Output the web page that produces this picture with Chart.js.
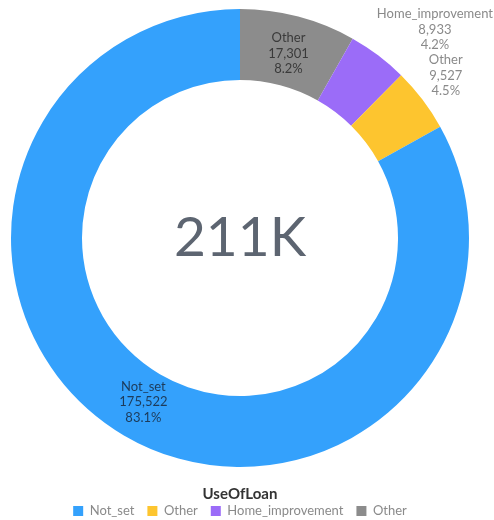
<!DOCTYPE html>
<html>

<head>
    <meta charset='utf-8'>
    <title>UseOfLoan</title>
    <script src="https://cdn.jsdelivr.net/npm/chart.js@4.4.1/dist/chart.umd.min.js"></script>
    <style>
        body { margin: 0; background: #fff; }
    </style>
</head>

<body>
    <canvas id="chart" width="494" height="520"></canvas>
    <script>
        // slices in drawing order (clockwise from 12 o'clock), legend shows them reversed
        var labels = ['Other', 'Home_improvement', 'Other', 'Not_set'];
        var values = [17301, 8933, 9527, 175522];
        var colors = ['#8c8c8c', '#9b6cf8', '#fdc52f', '#34a1fc'];
        var labelColors = ['#3a3a3a', '#8a8a8a', '#8a8a8a', '#1d3b5a'];

        var total = values.reduce((sum, v) => sum + v, 0);
        var FONT = 'Lato, "Open Sans", sans-serif';

        // value labels: big slices inside the ring, small ones outside next to it
        var sliceLabels = {
            id: 'sliceLabels',
            afterDatasetsDraw(chart) {
                var ctx = chart.ctx;
                var meta = chart.getDatasetMeta(0);
                ctx.save();
                ctx.font = '13px ' + FONT;
                ctx.textAlign = 'center';
                ctx.textBaseline = 'middle';
                var lh = 15.5;
                meta.data.forEach(function (arc, i) {
                    var v = values[i];
                    var pct = v / total * 100;
                    var lines = [labels[i], v.toLocaleString('en-US'), pct.toFixed(1) + '%'];
                    var mid = (arc.startAngle + arc.endAngle) / 2;
                    ctx.fillStyle = labelColors[i];
                    if (pct >= 8) {
                        var r = (arc.innerRadius + arc.outerRadius) / 2 - 3;
                        var x = arc.x + r * Math.cos(mid);
                        var y = arc.y + r * Math.sin(mid);
                        lines.forEach(function (t, k) {
                            ctx.fillText(t, x, y + (k - 1) * lh);
                        });
                    } else {
                        var r = arc.outerRadius + 8;
                        var ax = arc.x + r * Math.cos(mid);
                        var ay = arc.y + r * Math.sin(mid) + 4;
                        var w = Math.max.apply(null, lines.map(t => ctx.measureText(t).width));
                        var left = Math.min(ax, chart.width - w - 1);
                        lines.forEach(function (t, k) {
                            ctx.fillText(t, left + w / 2, ay - (lines.length - k - 0.5) * lh);
                        });
                    }
                });
                ctx.restore();
            }
        };

        // total in the hole
        var centerText = {
            id: 'centerText',
            afterDatasetsDraw(chart) {
                var arc = chart.getDatasetMeta(0).data[0];
                var ctx = chart.ctx;
                ctx.save();
                ctx.font = '55px ' + FONT;
                ctx.fillStyle = '#5d6571';
                ctx.textAlign = 'center';
                ctx.textBaseline = 'middle';
                ctx.fillText(Math.round(total / 1000) + 'K', arc.x, arc.y);
                ctx.restore();
            }
        };

        var ctx = document.getElementById('chart').getContext('2d');
        var chart = new Chart(ctx, {
            type: 'doughnut',
            data: {
                labels: labels,
                datasets: [{
                    data: values,
                    backgroundColor: colors,
                    borderWidth: 0
                }]
            },
            options: {
                responsive: false,
                animation: false,
                cutout: '69%',
                layout: {
                    // legend sits lower than Chart.js would put it
                    padding: { top: 9, left: 11, right: 25, bottom: -7.5 }
                },
                plugins: {
                    tooltip: { enabled: false },
                    legend: {
                        position: 'bottom',
                        reverse: true,
                        title: {
                            display: true,
                            text: 'UseOfLoan',
                            color: '#333333',
                            font: { family: FONT, size: 15, weight: 'bold' },
                            padding: { top: 19.5, bottom: -13 }
                        },
                        labels: {
                            boxWidth: 10,
                            boxHeight: 10,
                            padding: 13,
                            color: '#8a8a8a',
                            font: { family: FONT, size: 13 }
                        }
                    }
                }
            },
            plugins: [sliceLabels, centerText]
        });
    </script>
</body>

</html>
